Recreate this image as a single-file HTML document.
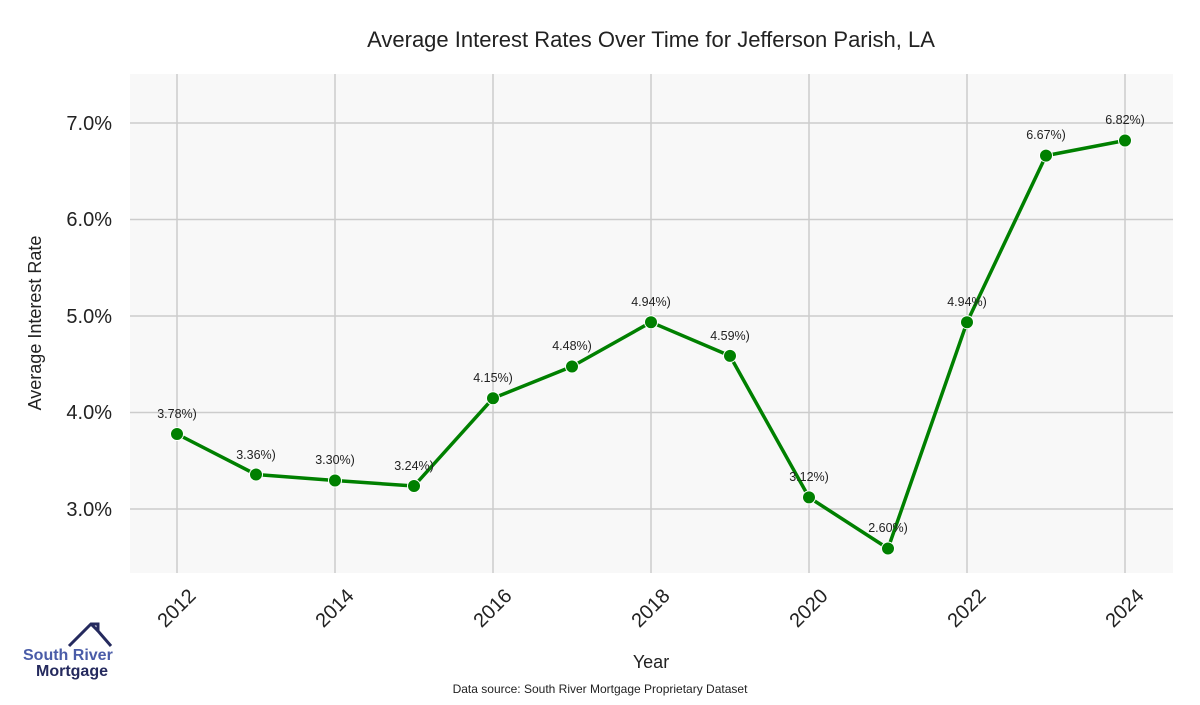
<!DOCTYPE html>
<html><head><meta charset="utf-8"><style>
body{margin:0;background:#fff;}
svg text{font-family:"Liberation Sans",sans-serif;}
</style></head><body>
<svg width="1200" height="700" viewBox="0 0 1200 700">
<rect x="0" y="0" width="1200" height="700" fill="#fff"/>
<text x="651" y="47" font-size="22" text-anchor="middle" fill="#222">Average Interest Rates Over Time for Jefferson Parish, LA</text>
<rect x="130" y="74" width="1043" height="499" fill="#f8f8f8"/>
<g stroke="#cccccc" stroke-width="1.5">
<line x1="177" y1="74" x2="177" y2="573"/><line x1="335" y1="74" x2="335" y2="573"/>
<line x1="493" y1="74" x2="493" y2="573"/><line x1="651" y1="74" x2="651" y2="573"/>
<line x1="809" y1="74" x2="809" y2="573"/><line x1="967" y1="74" x2="967" y2="573"/>
<line x1="1125" y1="74" x2="1125" y2="573"/>
<line x1="130" y1="123" x2="1173" y2="123"/><line x1="130" y1="219.5" x2="1173" y2="219.5"/>
<line x1="130" y1="316" x2="1173" y2="316"/><line x1="130" y1="412.5" x2="1173" y2="412.5"/>
<line x1="130" y1="509" x2="1173" y2="509"/>
</g>
<g font-size="20" fill="#222" text-anchor="end">
<text x="112" y="130">7.0%</text><text x="112" y="226">6.0%</text>
<text x="112" y="323">5.0%</text><text x="112" y="419">4.0%</text>
<text x="112" y="516">3.0%</text>
</g>
<text transform="translate(41,323) rotate(-90)" font-size="18" text-anchor="middle" fill="#222">Average Interest Rate</text>
<g font-size="20" fill="#222" text-anchor="end">
<text transform="translate(197,597) rotate(-45)">2012</text>
<text transform="translate(355,597) rotate(-45)">2014</text>
<text transform="translate(513,597) rotate(-45)">2016</text>
<text transform="translate(671,597) rotate(-45)">2018</text>
<text transform="translate(829,597) rotate(-45)">2020</text>
<text transform="translate(987,597) rotate(-45)">2022</text>
<text transform="translate(1145,597) rotate(-45)">2024</text>
</g>
<text x="651" y="668" font-size="18" text-anchor="middle" fill="#222">Year</text>
<text x="600" y="693" font-size="12" text-anchor="middle" fill="#222">Data source: South River Mortgage Proprietary Dataset</text>
<polyline fill="none" stroke="#008000" stroke-width="3.5" stroke-linejoin="round" points="177,434 256,474.5 335,480.5 414,486 493,398.3 572,366.5 651,322.2 730,355.9 809,497.4 888,548.5 967,322.2 1046,155.6 1125,140.5"/>
<g fill="#008000" stroke="#fff" stroke-width="1">
<circle cx="177" cy="434" r="6.5"/><circle cx="256" cy="474.5" r="6.5"/><circle cx="335" cy="480.5" r="6.5"/>
<circle cx="414" cy="486" r="6.5"/><circle cx="493" cy="398.3" r="6.5"/><circle cx="572" cy="366.5" r="6.5"/>
<circle cx="651" cy="322.2" r="6.5"/><circle cx="730" cy="355.9" r="6.5"/><circle cx="809" cy="497.4" r="6.5"/>
<circle cx="888" cy="548.5" r="6.5"/><circle cx="967" cy="322.2" r="6.5"/><circle cx="1046" cy="155.6" r="6.5"/>
<circle cx="1125" cy="140.5" r="6.5"/>
</g>
<g font-size="12.5" fill="#222" text-anchor="middle">
<text x="177" y="418">3.78%)</text><text x="256" y="459">3.36%)</text><text x="335" y="464">3.30%)</text>
<text x="414" y="470">3.24%)</text><text x="493" y="382">4.15%)</text><text x="572" y="350">4.48%)</text>
<text x="651" y="306">4.94%)</text><text x="730" y="340">4.59%)</text><text x="809" y="481">3.12%)</text>
<text x="888" y="532">2.60%)</text><text x="967" y="306">4.94%)</text><text x="1046" y="139">6.67%)</text>
<text x="1125" y="124">6.82%)</text>
</g>
<polyline fill="none" stroke="#252a5e" stroke-width="3" points="69,646 91,624 98,624 98,631 111,646"/>
<polyline fill="none" stroke="#252a5e" stroke-width="3" points="91,624 98,631"/>
<text x="23" y="660" font-size="16" font-weight="bold" fill="#4a5ca8">South River</text>
<text x="36" y="676" font-size="16" font-weight="bold" fill="#252a5e">Mortgage</text>
</svg>
</body></html>
